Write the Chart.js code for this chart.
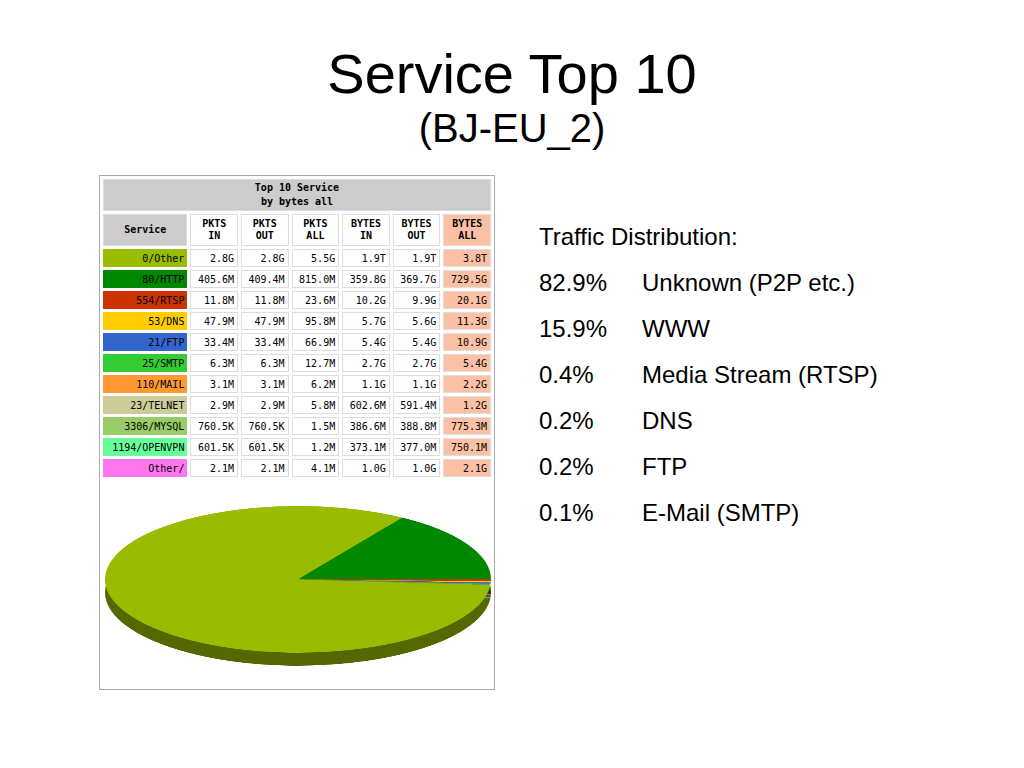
<!DOCTYPE html>
<html><head><meta charset="utf-8">
<script src="https://cdn.jsdelivr.net/npm/chart.js@4"></script>
<style>
body{margin:0;width:1024px;height:768px;background:#fff;font-family:"Liberation Sans",Arial,sans-serif;position:relative;overflow:hidden}
h1{position:absolute;top:44px;left:0;width:1024px;text-align:center;margin:0;font-weight:normal;font-size:56px;line-height:60px}
h2{position:absolute;top:106px;left:0;width:1024px;text-align:center;margin:0;font-weight:normal;font-size:40px}
#panel{position:absolute;left:99px;top:175px;width:394px;height:513px;border:1px solid #aaa;background:#fff}
table{border-collapse:separate;border-spacing:3px;font-family:"DejaVu Sans Mono",monospace;font-size:10px;position:absolute;left:0;top:0;width:394px}
td{height:16px;padding:0 3px;text-align:right;border:1px solid #ddd;white-space:nowrap}
td.s{border:none}
.hd td{text-align:center;font-weight:bold;height:30px;line-height:12px}
.ttl{background:#ccc;text-align:center;font-weight:bold;height:30px;line-height:14px}
.ba{background:#fcc0a4}
#legend{position:absolute;left:539px;top:214px;font-size:24px;line-height:46px}
#legend span{display:inline-block;width:103px}
.pie{position:absolute;left:5px;width:386px;height:386px;transform-origin:top left;transform:scaleY(0.38)}
</style></head><body>
<h1>Service Top 10</h1>
<h2>(BJ-EU_2)</h2>
<div id="panel">
<table id="tbl"></table>
<div class="pie" style="top:343px"><canvas id="shadow"></canvas></div>
<div class="pie" style="top:330px"><canvas id="pie"></canvas></div>
</div>
<div id="legend"></div>
<script>
const services = ['0/Other','80/HTTP','554/RTSP','53/DNS','21/FTP','25/SMTP','110/MAIL','23/TELNET','3306/MYSQL','1194/OPENVPN','Other/'];
const svcColors = ['#99bb00','#008800','#cc3300','#ffcc00','#3366cc','#33cc33','#ff9933','#cccc99','#99cc66','#66ff99','#ff77ee'];
const pktsIn = ['2.8G','405.6M','11.8M','47.9M','33.4M','6.3M','3.1M','2.9M','760.5K','601.5K','2.1M'];
const pktsOut = ['2.8G','409.4M','11.8M','47.9M','33.4M','6.3M','3.1M','2.9M','760.5K','601.5K','2.1M'];
const pktsAll = ['5.5G','815.0M','23.6M','95.8M','66.9M','12.7M','6.2M','5.8M','1.5M','1.2M','4.1M'];
const bytesIn = ['1.9T','359.8G','10.2G','5.7G','5.4G','2.7G','1.1G','602.6M','386.6M','373.1M','1.0G'];
const bytesOut = ['1.9T','369.7G','9.9G','5.6G','5.4G','2.7G','1.1G','591.4M','388.8M','377.0M','1.0G'];
const bytesAll = ['3.8T','729.5G','20.1G','11.3G','10.9G','5.4G','2.2G','1.2G','775.3M','750.1M','2.1G'];
const bytesAllGB = [3800,729.5,20.1,11.3,10.9,5.4,2.2,1.2,0.7753,0.7501,2.1];
const shares = ['82.9%','15.9%','0.4%','0.2%','0.2%','0.1%'];
const shareNames = ['Unknown (P2P etc.)','WWW','Media Stream (RTSP)','DNS','FTP','E-Mail (SMTP)'];

let h = '<tr><td colspan="7" class="ttl">Top 10 Service<br>by bytes all</td></tr>';
h += '<tr class="hd"><td style="background:#ccc;line-height:30px">Service</td><td>PKTS<br>IN</td><td>PKTS<br>OUT</td><td>PKTS<br>ALL</td><td>BYTES<br>IN</td><td>BYTES<br>OUT</td><td class="ba">BYTES<br>ALL</td></tr>';
services.forEach((s,i)=>{
  h += `<tr><td class="s" style="background:${svcColors[i]}">${s}</td><td>${pktsIn[i]}</td><td>${pktsOut[i]}</td><td>${pktsAll[i]}</td><td>${bytesIn[i]}</td><td>${bytesOut[i]}</td><td class="ba">${bytesAll[i]}</td></tr>`;
});
document.getElementById('tbl').innerHTML = h;

let lg = '<div>Traffic Distribution:</div>';
shares.forEach((p,i)=>{ lg += `<div><span>${p}</span>${shareNames[i]}</div>`; });
document.getElementById('legend').innerHTML = lg;

// clockwise from 3 o'clock: small slices first, HTTP last
const order = [2,3,4,5,6,7,8,9,10,0,1];
function dark(c){const n=parseInt(c.slice(1),16);const f=v=>Math.round(v*0.55).toString(16).padStart(2,'0');return '#'+f(n>>16)+f((n>>8)&255)+f(n&255);}
function pie(id, colors){
  const cv = document.getElementById(id);
  cv.width = 386; cv.height = 386;
  new Chart(cv, {
    type:'pie',
    data:{labels:order.map(i=>services[i]),datasets:[{data:order.map(i=>bytesAllGB[i]),backgroundColor:order.map(i=>colors[i]),borderWidth:0}]},
    options:{responsive:false,animation:false,rotation:90,plugins:{legend:{display:false},tooltip:{enabled:false}}}
  });
}
pie('shadow', svcColors.map(dark));
pie('pie', svcColors);
</script>
</body></html>
